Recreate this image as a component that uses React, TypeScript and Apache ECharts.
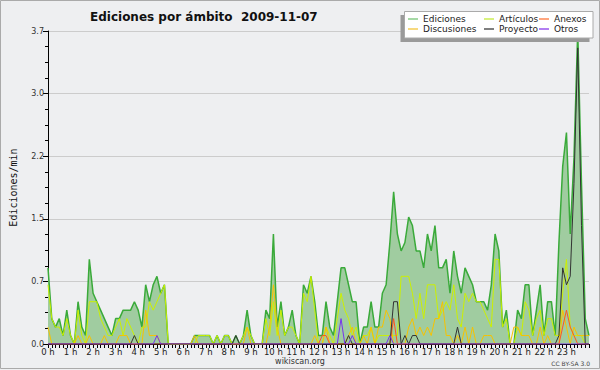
import React, { useEffect, useRef } from "react";
import * as echarts from "echarts";

// 10-minute bins, 0:00 .. 24:00 (145 points), edits per minute
const ediciones = [
  0.9, 0.3, 0.2, 0.3, 0.1, 0.4, 0.1, 0, 0.5, 0.2,
  0.1, 1.0, 0.6, 0.5, 0.4, 0.3, 0.2, 0.1, 0.3, 0.3,
  0.4, 0.4, 0.4, 0.5, 0.4, 0.2, 0.7, 0.5, 0.7, 0.8,
  0.6, 0.7, 0, 0, 0, 0, 0, 0, 0, 0.1,
  0.1, 0.1, 0.1, 0.1, 0, 0.1, 0, 0.1, 0.1, 0,
  0.1, 0, 0.1, 0.4, 0.1, 0, 0, 0, 0.4, 0.3,
  1.3, 0.2, 0.5, 0.1, 0.2, 0.4, 0.1, 0, 0.7, 0.6,
  0.8, 0.5, 0.1, 0.1, 0.5, 0.2, 0.1, 0.5, 0.9, 0.9,
  0.7, 0.5, 0.5, 0, 0.2, 0.2, 0.5, 0.2, 0.2, 0.6,
  0.7, 1.2, 1.8, 1.3, 1.1, 1.2, 1.5, 1.4, 1.1, 1.1,
  0.9, 1.3, 1.1, 1.4, 0.9, 0.9, 1.0, 0.6, 1.1, 0.8,
  0.6, 0.9, 0.8, 0.7, 0.5, 0.5, 0.5, 0.4, 0.7, 1.3,
  1.1, 0.2, 0.4, 0, 0, 0.4, 0.3, 0.7, 0.7, 0.1,
  0.4, 0.7, 0.1, 0.5, 0.5, 0.1, 1.2, 2.1, 2.5, 1.3,
  2.2, 3.7, 1.9, 0.3, 0.1,
];

const articulos = [
  0.7, 0.3, 0.2, 0.2, 0.1, 0.3, 0.1, 0, 0.4, 0.1,
  0, 0.5, 0.5, 0.5, 0.3, 0.2, 0.1, 0.1, 0.2, 0.3,
  0.1, 0.3, 0.2, 0.1, 0, 0.2, 0.2, 0.5, 0.4, 0.5,
  0.6, 0.7, 0, 0, 0, 0, 0, 0, 0, 0,
  0.1, 0.1, 0.1, 0.1, 0, 0.1, 0, 0.1, 0.1, 0,
  0, 0, 0.1, 0.2, 0.1, 0, 0, 0, 0.3, 0.1,
  0.5, 0.1, 0.4, 0.1, 0.2, 0.2, 0.1, 0, 0.6, 0.5,
  0.8, 0.4, 0, 0, 0.2, 0.1, 0, 0.3, 0.6, 0.4,
  0.3, 0.1, 0.2, 0, 0.1, 0.1, 0.2, 0, 0.1, 0.1,
  0.1, 0.1, 0.1, 0.1, 0.8, 0.8, 0.8, 0.6, 0.3, 0.6,
  0.3, 0.7, 0.7, 0.7, 0.3, 0.4, 0.5, 0.4, 0.7, 0.3,
  0.2, 0.6, 0.5, 0.6, 0.5, 0.5, 0.4, 0.3, 0.2, 1.0,
  1.0, 0.2, 0.3, 0, 0, 0.2, 0.1, 0.5, 0.4, 0.1,
  0.3, 0.4, 0.1, 0.3, 0.3, 0.1, 0.1, 0.6, 1.0, 0.2,
  0.1, 0.1, 0.1, 0, 0,
];

const discusiones = [
  0.2, 0, 0, 0, 0, 0, 0, 0, 0.1, 0,
  0, 0.1, 0, 0, 0, 0.1, 0, 0, 0, 0.1,
  0.1, 0.1, 0, 0, 0, 0, 0.4, 0.1, 0.1, 0.1,
  0, 0, 0, 0, 0, 0, 0, 0, 0, 0.1,
  0, 0, 0, 0, 0, 0, 0, 0, 0, 0,
  0, 0, 0, 0.2, 0, 0, 0, 0, 0, 0.2,
  0.7, 0.2, 0, 0, 0, 0, 0, 0, 0, 0,
  0, 0.1, 0, 0, 0.2, 0, 0, 0, 0, 0,
  0.1, 0.2, 0, 0, 0.1, 0, 0.2, 0, 0.2, 0.2,
  0.4, 0.3, 0, 0, 0, 0, 0.2, 0.3, 0.1, 0.2,
  0.1, 0.2, 0.1, 0.3, 0.3, 0.5, 0.1, 0.1, 0, 0.1,
  0, 0.2, 0, 0.2, 0, 0, 0.1, 0.1, 0.1, 0,
  0, 0, 0, 0, 0.2, 0.2, 0.1, 0.1, 0.1, 0,
  0, 0.2, 0, 0.1, 0, 0, 0, 0.4, 0.2, 0,
  0.2, 0.1, 0.1, 0.1, 0.1,
];

const anexos = [
  0, 0, 0, 0, 0, 0, 0, 0, 0, 0,
  0, 0, 0, 0, 0, 0, 0, 0, 0, 0,
  0, 0, 0, 0, 0, 0, 0, 0, 0, 0,
  0, 0, 0, 0, 0, 0, 0, 0, 0, 0,
  0, 0, 0, 0, 0, 0, 0, 0, 0, 0,
  0, 0, 0, 0, 0, 0, 0, 0, 0, 0,
  0, 0, 0, 0, 0, 0, 0, 0, 0, 0,
  0, 0, 0, 0.1, 0.1, 0, 0, 0, 0, 0,
  0, 0, 0, 0, 0, 0, 0, 0, 0, 0,
  0, 0, 0.3, 0, 0, 0, 0, 0, 0, 0,
  0, 0, 0, 0, 0, 0, 0, 0, 0, 0,
  0, 0, 0, 0, 0, 0, 0, 0, 0, 0,
  0, 0, 0, 0, 0, 0, 0, 0, 0, 0,
  0, 0, 0, 0, 0, 0, 0, 0.2, 0.4, 0.2,
  0.1, 0, 0, 0, 0,
];

const proyecto = [
  0, 0, 0, 0, 0, 0, 0, 0, 0, 0,
  0, 0, 0, 0, 0, 0, 0, 0, 0, 0,
  0, 0, 0, 0.1, 0, 0, 0, 0, 0, 0,
  0, 0, 0, 0, 0, 0, 0, 0, 0, 0,
  0, 0, 0, 0, 0, 0, 0, 0, 0, 0,
  0.1, 0, 0, 0, 0, 0, 0, 0, 0, 0,
  0, 0, 0, 0, 0, 0, 0, 0, 0, 0,
  0, 0, 0, 0, 0, 0, 0, 0, 0, 0,
  0.1, 0, 0, 0, 0, 0, 0, 0, 0, 0,
  0, 0, 0.5, 0.5, 0, 0.1, 0, 0.1, 0.1, 0,
  0, 0, 0, 0, 0, 0, 0, 0, 0, 0.2,
  0, 0, 0, 0, 0, 0, 0, 0, 0, 0,
  0, 0, 0, 0, 0, 0, 0, 0, 0, 0,
  0, 0, 0, 0, 0, 0, 0.1, 0.9, 0.7, 0.8,
  1.9, 3.5, 1.4, 0, 0,
];

const otros = [
  0, 0, 0, 0, 0, 0, 0, 0, 0, 0,
  0, 0, 0, 0, 0, 0, 0, 0, 0, 0,
  0, 0, 0, 0, 0, 0, 0, 0, 0, 0.1,
  0, 0, 0, 0, 0, 0, 0, 0, 0, 0,
  0, 0, 0, 0, 0, 0, 0, 0, 0, 0,
  0, 0, 0, 0, 0, 0, 0, 0, 0, 0,
  0, 0, 0, 0, 0, 0, 0, 0, 0, 0,
  0, 0, 0, 0, 0, 0, 0, 0, 0.3, 0,
  0, 0.1, 0, 0, 0, 0, 0, 0, 0, 0,
  0, 0.1, 0, 0, 0, 0, 0, 0, 0, 0,
  0, 0, 0, 0, 0, 0, 0, 0, 0, 0,
  0, 0, 0, 0, 0, 0, 0, 0, 0, 0,
  0, 0, 0, 0, 0, 0, 0, 0, 0, 0,
  0, 0, 0, 0, 0, 0, 0, 0, 0, 0,
  0, 0, 0, 0, 0,
];

const TITLE = "Ediciones por ámbito  2009-11-07";
const Y_NAME = "Ediciones/min";
const Y_MAX = 3.7;
const STEPS_PER_HOUR = 6;

const SERIES = [
  { name: "Ediciones", data: ediciones, color: "#3aaa3a", legend: "#88cc88" },
  { name: "Artículos", data: articulos, color: "#ccf000", legend: "#ccee55" },
  { name: "Discusiones", data: discusiones, color: "#f7c200", legend: "#f5cc55" },
  { name: "Anexos", data: anexos, color: "#ff5522", legend: "#ff8855" },
  { name: "Proyecto", data: proyecto, color: "#333333", legend: "#555555" },
  { name: "Otros", data: otros, color: "#7733ee", legend: "#9955ee" },
];

const FONT = "DejaVu Sans";

export default function App() {
  const ref = useRef<HTMLDivElement>(null);

  useEffect(() => {
    if (!ref.current) return;
    const chart = echarts.init(ref.current, undefined, { renderer: "svg" });

    const legendOf = (names: string[], left: number) => ({
      data: names.map((n) => {
        const s = SERIES.find((x) => x.name === n)!;
        return { name: n, itemStyle: { color: s.legend } };
      }),
      orient: "vertical",
      left,
      top: 14,
      padding: 0,
      itemWidth: 10,
      itemHeight: 1.5,
      itemGap: 0,
      icon: "rect",
      selectedMode: false,
      z: 10,
      textStyle: { fontSize: 9, fontFamily: FONT, color: "#222", lineHeight: 10 },
    });

    const series = SERIES.map((s, k) => ({
      name: s.name,
      type: "line",
      symbol: "none",
      data: s.data.map((v, i) => [i / STEPS_PER_HOUR, v]),
      itemStyle: { color: s.color },
      lineStyle: { color: s.color, width: k === 0 ? 1.5 : 1 },
      areaStyle: k === 0 ? { color: "#a0cca0", opacity: 1 } : undefined,
      z: 2 + k * 0.01,
      silent: true,
    }));

    chart.setOption({
      animation: false,
      backgroundColor: "#eeeff1",
      title: {
        text: TITLE,
        left: 85,
        top: 6,
        textStyle: { fontSize: 12, fontWeight: "bold", fontFamily: FONT, color: "#111" },
      },
      legend: [
        legendOf(["Ediciones", "Discusiones"], 408),
        legendOf(["Artículos", "Proyecto"], 484),
        legendOf(["Anexos", "Otros"], 539),
      ],
      grid: { left: 46, right: 11, top: 31, bottom: 26 },
      xAxis: {
        type: "value",
        min: 0,
        max: 24,
        interval: 1,
        axisLine: { show: true, lineStyle: { color: "#000", width: 1 } },
        axisTick: { show: true, length: 4, lineStyle: { color: "#000" } },
        minorTick: { show: true, splitNumber: 6, length: 4, lineStyle: { color: "#000" } },
        splitLine: { show: false },
        axisLabel: {
          margin: 3,
          fontSize: 8.5,
          fontFamily: FONT,
          color: "#222",
          showMaxLabel: false,
          formatter: (v: number) => (v >= 24 ? "" : `${v} h`),
        },
      },
      yAxis: {
        type: "value",
        min: 0,
        max: Y_MAX,
        interval: Y_MAX / 5,
        name: Y_NAME,
        nameLocation: "middle",
        nameRotate: 90,
        nameGap: 30,
        nameTextStyle: { fontSize: 10, fontFamily: "DejaVu Sans Mono", color: "#111" },
        axisLine: { show: true, lineStyle: { color: "#000", width: 1 } },
        axisTick: { show: true, length: 5, lineStyle: { color: "#000" } },
        minorTick: { show: true, splitNumber: 4, length: 3, lineStyle: { color: "#000" } },
        splitLine: { show: true, lineStyle: { color: "#cccccc", width: 1 } },
        axisLabel: {
          margin: 4,
          fontSize: 8,
          fontFamily: FONT,
          color: "#333",
          formatter: (v: number) => v.toFixed(1),
        },
      },
      graphic: [
        {
          type: "rect",
          z: 8,
          shape: { x: 400.5, y: 15, width: 189, height: 27 },
          style: { fill: "#9a9a9a" },
        },
        {
          type: "rect",
          z: 9,
          shape: { x: 404.5, y: 11.5, width: 188.5, height: 26.5 },
          style: { fill: "#ffffff", stroke: "#aaaaaa", lineWidth: 1 },
        },
        {
          type: "text",
          z: 9,
          x: 300,
          y: 361,
          style: {
            text: "wikiscan.org",
            fontSize: 8,
            fontFamily: FONT,
            fill: "#333",
            align: "center",
            verticalAlign: "middle",
          },
        },
        {
          type: "text",
          z: 9,
          x: 590,
          y: 363,
          style: {
            text: "CC BY-SA 3.0",
            fontSize: 6,
            fontFamily: FONT,
            fill: "#444",
            align: "right",
            verticalAlign: "middle",
          },
        },
        {
          type: "rect",
          z: 9,
          shape: { x: 0.5, y: 0.5, width: 599, height: 368 },
          style: { fill: "none", stroke: "#aaaaaa", lineWidth: 1 },
        },
      ],
      series,
    });

    return () => chart.dispose();
  }, []);

  return (
    <div
      ref={ref}
      style={{ position: "absolute", left: 0, top: 0, width: 600, height: 370 }}
    />
  );
}
